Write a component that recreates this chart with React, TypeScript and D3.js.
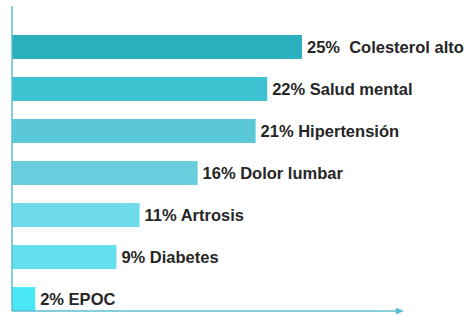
import React from "react";
import * as d3 from "d3";

const categories = [
  "Colesterol alto",
  "Salud mental",
  "Hipertensión",
  "Dolor lumbar",
  "Artrosis",
  "Diabetes",
  "EPOC",
];
const values = [25, 22, 21, 16, 11, 9, 2];
const valueLabels = ["25%  ", "22% ", "21% ", "16% ", "11% ", "9% ", "2% "];
const barColors = [
  "#2aafbf",
  "#3ec2d2",
  "#5ac8d8",
  "#68cddc",
  "#6ddbea",
  "#62e0ee",
  "#4ae8f5",
];

const width = 470;
const height = 316;
const axisX = 12;
const axisColor = "#5bbfcf";

const App = () => {
  const x = d3.scaleLinear().domain([0, 25]).range([axisX, 302]);
  const y = d3
    .scaleBand<string>()
    .domain(categories)
    .range([35, 311])
    .paddingInner(0.43)
    .paddingOuter(0);

  const baseY = 311;

  return (
    <svg
      width={width}
      height={height}
      style={{ position: "absolute", left: 0, top: 0, background: "#fff" }}
    >
      {categories.map((c, i) => (
        <g key={c}>
          <rect
            x={x(0)}
            y={y(c)}
            width={x(values[i]) - x(0)}
            height={y.bandwidth()}
            fill={barColors[i]}
          />
          <text
            x={x(values[i]) + 5}
            y={(y(c) as number) + y.bandwidth() / 2}
            dy="0.36em"
            fontFamily="'Liberation Sans', Arial, sans-serif"
            fontWeight="bold"
            fontSize={16.5}
            fill="#262626"
            style={{ whiteSpace: "pre" }}
          >
            {valueLabels[i] + c}
          </text>
        </g>
      ))}
      {/* axes */}
      <line x1={axisX} x2={axisX} y1={6} y2={baseY} stroke={axisColor} strokeWidth={1.5} />
      <line x1={axisX} x2={398} y1={baseY} y2={baseY} stroke={axisColor} strokeWidth={1.5} />
      <path
        d={`M404,${baseY} L396,${baseY - 3.5} L396,${baseY + 3.5} Z`}
        fill={axisColor}
      />
    </svg>
  );
};

export default App;
